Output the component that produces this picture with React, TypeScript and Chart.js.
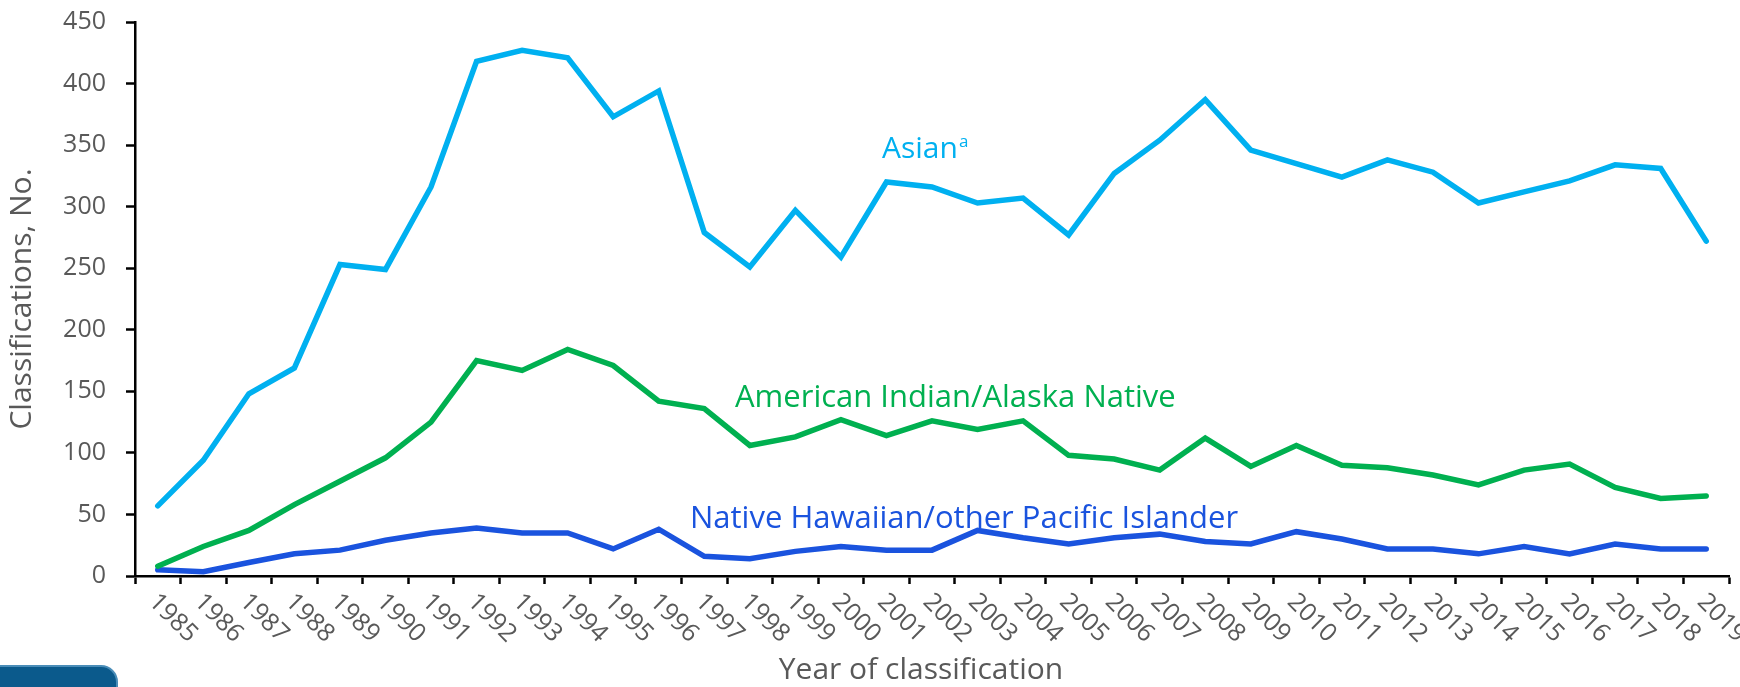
import React, { useEffect, useRef } from 'react';
import { Chart, registerables } from 'chart.js';

Chart.register(...registerables);

const years = [
  '1985', '1986', '1987', '1988', '1989', '1990', '1991', '1992', '1993', '1994',
  '1995', '1996', '1997', '1998', '1999', '2000', '2001', '2002', '2003', '2004',
  '2005', '2006', '2007', '2008', '2009', '2010', '2011', '2012', '2013', '2014',
  '2015', '2016', '2017', '2018', '2019',
];

const asian = [
  57, 94, 148, 169, 253, 249, 316, 418, 427, 421,
  373, 394, 279, 251, 297, 259, 320, 316, 303, 307,
  277, 327, 354, 387, 346, 335, 324, 338, 328, 303,
  312, 321, 334, 331, 272,
];

const aian = [
  8, 24, 37, 58, 77, 96, 125, 175, 167, 184,
  171, 142, 136, 106, 113, 127, 114, 126, 119, 126,
  98, 95, 86, 112, 89, 106, 90, 88, 82, 74,
  86, 91, 72, 63, 65,
];

const nhpi = [
  5, 3.5, 11, 18, 21, 29, 35, 39, 35, 35,
  22, 38, 16, 14, 20, 24, 21, 21, 37, 31,
  26, 31, 34, 28, 26, 36, 30, 22, 22, 18,
  24, 18, 26, 22, 22,
];

const seriesNames = ['Asian', 'American Indian/Alaska Native', 'Native Hawaiian/other Pacific Islander'];
const seriesColors = ['#00B0F0', '#00B050', '#1A53DE'];
const xTitle = 'Year of classification';
const yTitle = 'Classifications, No.';

const Y_MIN = 0;
const Y_MAX = 450;
const Y_STEP = 50;

const TICK_GRAY = '#595959';
const FONT = '"Open Sans", "Noto Sans", sans-serif';

const overlayPlugin = {
  id: 'overlay',
  afterDraw(chart: any) {
    const ctx = chart.ctx as CanvasRenderingContext2D;
    const xs = chart.scales.x;
    const ys = chart.scales.y;
    ctx.save();

    // rotated x tick labels (clockwise 45°)
    ctx.fillStyle = TICK_GRAY;
    ctx.font = `25px ${FONT}`;
    ctx.textAlign = 'left';
    ctx.textBaseline = 'middle';
    years.forEach((yr, i) => {
      const x = xs.getPixelForValue(i);
      ctx.save();
      ctx.translate(x - 5, ys.bottom + 22);
      ctx.rotate(Math.PI / 4);
      ctx.fillText(yr, 0, 0);
      ctx.restore();
    });

    // x axis title
    ctx.textAlign = 'center';
    ctx.font = `30px ${FONT}`;
    ctx.fillText(xTitle, 921, 670);

    // series labels
    ctx.textAlign = 'left';
    ctx.textBaseline = 'alphabetic';
    ctx.font = `30px ${FONT}`;
    ctx.fillStyle = seriesColors[0];
    ctx.fillText(seriesNames[0], 882, 158);
    const w = ctx.measureText(seriesNames[0]).width;
    ctx.font = `17px ${FONT}`;
    ctx.fillText('a', 882 + w + 1, 147);

    ctx.font = `31px ${FONT}`;
    ctx.fillStyle = seriesColors[1];
    ctx.fillText(seriesNames[1], 735, 407);
    ctx.fillStyle = seriesColors[2];
    ctx.fillText(seriesNames[2], 690, 528);

    // corner badge
    ctx.fillStyle = '#0B5A8C';
    ctx.strokeStyle = '#4A8DB8';
    ctx.lineWidth = 2;
    ctx.beginPath();
    (ctx as any).roundRect(-20, 666, 137, 50, 16);
    ctx.fill();
    ctx.stroke();

    ctx.restore();
  },
};

export default function App() {
  const canvasRef = useRef<HTMLCanvasElement | null>(null);

  useEffect(() => {
    document.body.style.margin = '0';
    const canvas = canvasRef.current;
    if (!canvas) return;

    const mk = (label: string, data: number[], color: string) => ({
      label,
      data,
      borderColor: color,
      backgroundColor: color,
      borderWidth: 5.5,
      pointRadius: 0,
      pointHoverRadius: 0,
      tension: 0,
      fill: false,
      borderCapStyle: 'round' as const,
      borderJoinStyle: 'miter' as const,
    });

    const chart = new Chart(canvas, {
      type: 'line',
      data: {
        labels: years,
        datasets: [
          mk(seriesNames[0], asian, seriesColors[0]),
          mk(seriesNames[1], aian, seriesColors[1]),
          mk(seriesNames[2], nhpi, seriesColors[2]),
        ],
      },
      options: {
        animation: false,
        responsive: false,
        maintainAspectRatio: false,
        layout: { padding: { left: 0, right: 11, top: 22, bottom: 0 } },
        plugins: {
          legend: { display: false },
          tooltip: { enabled: false },
        },
        scales: {
          x: {
            type: 'category',
            offset: true,
            grid: {
              offset: true,
              drawOnChartArea: false,
              drawTicks: true,
              tickLength: 8,
              tickColor: '#000',
              tickWidth: 2.5,
            },
            border: { display: true, color: '#000', width: 2.5 },
            ticks: { display: false },
            title: { display: false },
            afterFit: (scale: any) => {
              scale.height = 111;
              scale.paddingLeft = 0;
              scale.paddingRight = 0;
            },
          },
          y: {
            min: Y_MIN,
            max: Y_MAX,
            grid: {
              drawOnChartArea: false,
              drawTicks: true,
              tickLength: 9,
              tickColor: '#000',
              tickWidth: 2.5,
            },
            border: { display: true, color: '#000', width: 2.5 },
            ticks: {
              stepSize: Y_STEP,
              color: TICK_GRAY,
              padding: 20,
              font: { family: FONT, size: 25 },
            },
            title: {
              display: true,
              text: yTitle,
              color: TICK_GRAY,
              font: { family: FONT, size: 30 },
              padding: { top: 4, bottom: 0 },
            },
            afterFit: (scale: any) => {
              scale.width = 135;
              scale.paddingTop = 0;
              scale.paddingBottom = 0;
            },
          },
        },
      },
      plugins: [overlayPlugin],
    });

    return () => chart.destroy();
  }, []);

  return (
    <div style={{ width: 1740, height: 687 }}>
      <canvas ref={canvasRef} width={1740} height={687} style={{ display: 'block' }} />
    </div>
  );
}
